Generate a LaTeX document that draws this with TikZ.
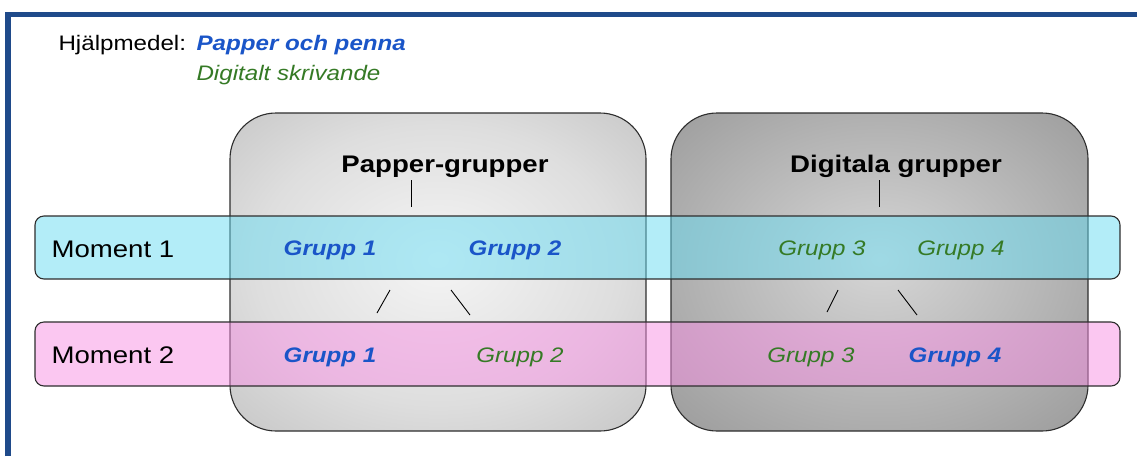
\documentclass[tikz,border=0pt]{standalone}
\usepackage{fontspec}
\setmainfont{Liberation Sans}[FakeStretch=1.15]
\definecolor{framecol}{HTML}{1F4A8A}
\definecolor{penblue}{HTML}{1A55C8}
\definecolor{digigreen}{HTML}{357A25}
\definecolor{bandcyan}{HTML}{69DDF3}
\definecolor{bandpink}{HTML}{F991E5}
\definecolor{edgecol}{HTML}{2E2E2E}
% soft radial fills for the two group boxes
\pgfdeclareradialshading{paperglow}{\pgfpoint{0bp}{2bp}}{%
  rgb(0bp)=(0.96,0.96,0.96);
  rgb(22bp)=(0.87,0.87,0.87);
  rgb(42bp)=(0.74,0.74,0.74);
  rgb(50bp)=(0.70,0.70,0.70)}
\pgfdeclareradialshading{digiglow}{\pgfpoint{0bp}{2bp}}{%
  rgb(0bp)=(0.84,0.84,0.84);
  rgb(22bp)=(0.70,0.70,0.70);
  rgb(42bp)=(0.57,0.57,0.57);
  rgb(50bp)=(0.53,0.53,0.53)}
\tikzset{
  groupbox/.style={draw=edgecol, line width=1.1pt, rounded corners=46pt},
  band/.style={draw=edgecol, line width=1.1pt, rounded corners=9pt, fill opacity=0.5},
  heading/.style={anchor=base, font=\fontsize{24}{28}\selectfont\bfseries},
  moment/.style={anchor=base west, font=\fontsize{24}{28}\selectfont},
  paper/.style={anchor=base, text=penblue, font=\fontsize{21}{25}\selectfont\bfseries\itshape},
  digital/.style={anchor=base, text=digigreen, font=\fontsize{21}{25}\selectfont\itshape},
  tick/.style={line width=0.9pt, draw=black}
}
\begin{document}
\begin{tikzpicture}[x=1pt, y=-1pt]
\useasboundingbox (0,0) rectangle (1137,456);
\fill[white] (0,0) rectangle (1137,456);

% frame on the top and left side
\draw[framecol, line width=5.5pt, line join=miter] (8,456) -- (8,14.5) -- (1137,14.5);

% legend
\node[anchor=base west, font=\fontsize{21}{25}\selectfont] (hj) at (55,50) {Hjälpmedel:};
\node[anchor=base west, text=penblue, font=\fontsize{21}{25}\selectfont\bfseries\itshape] (pp) at (193,50) {Papper och penna};
\node[anchor=base west, text=digigreen, font=\fontsize{21}{25}\selectfont\itshape] (ds) at (193,80) {Digitalt skrivande};

% the two group boxes
\path[groupbox, shading=paperglow] (230,113) rectangle (646,431);
\path[groupbox, shading=digiglow] (671,113) rectangle (1088,431);

% the two moments, laid across the boxes
\path[band, fill=bandcyan] (35,216) rectangle (1120,279);
\path[band, fill=bandpink] (35,322) rectangle (1120,386);

% headings
\node[heading] (pg) at (445,172) {Papper-grupper};
\node[heading] (dg) at (896,172) {Digitala grupper};

% moments
\node[moment] (m1) at (48,257) {Moment 1};
\node[moment] (m2) at (48,363) {Moment 2};

% groups, moment 1
\node[paper]   (a1) at (330,255) {Grupp 1};
\node[paper]   (a2) at (515,255) {Grupp 2};
\node[digital] (a3) at (822,255) {Grupp 3};
\node[digital] (a4) at (961,255) {Grupp 4};

% groups, moment 2
\node[paper]   (b1) at (330,362) {Grupp 1};
\node[digital] (b2) at (520,362) {Grupp 2};
\node[digital] (b3) at (811,362) {Grupp 3};
\node[paper]   (b4) at (955,362) {Grupp 4};

% short marks between heading and groups
\coordinate (pt1) at (411,180); \coordinate (pt2) at (411,207);
\coordinate (dt1) at (879,180); \coordinate (dt2) at (879,207);
\draw[tick] (pt1) -- (pt2);
\draw[tick] (dt1) -- (dt2);

\coordinate (ps1) at (390,290); \coordinate (ps2) at (377,313);
\coordinate (ps3) at (451,290); \coordinate (ps4) at (470,315);
\coordinate (ds1) at (838,290); \coordinate (ds2) at (827,312);
\coordinate (ds3) at (898,290); \coordinate (ds4) at (917,315);
\draw[tick] (ps1) -- (ps2);
\draw[tick] (ps3) -- (ps4);
\draw[tick] (ds1) -- (ds2);
\draw[tick] (ds3) -- (ds4);
\end{tikzpicture}
\end{document}
